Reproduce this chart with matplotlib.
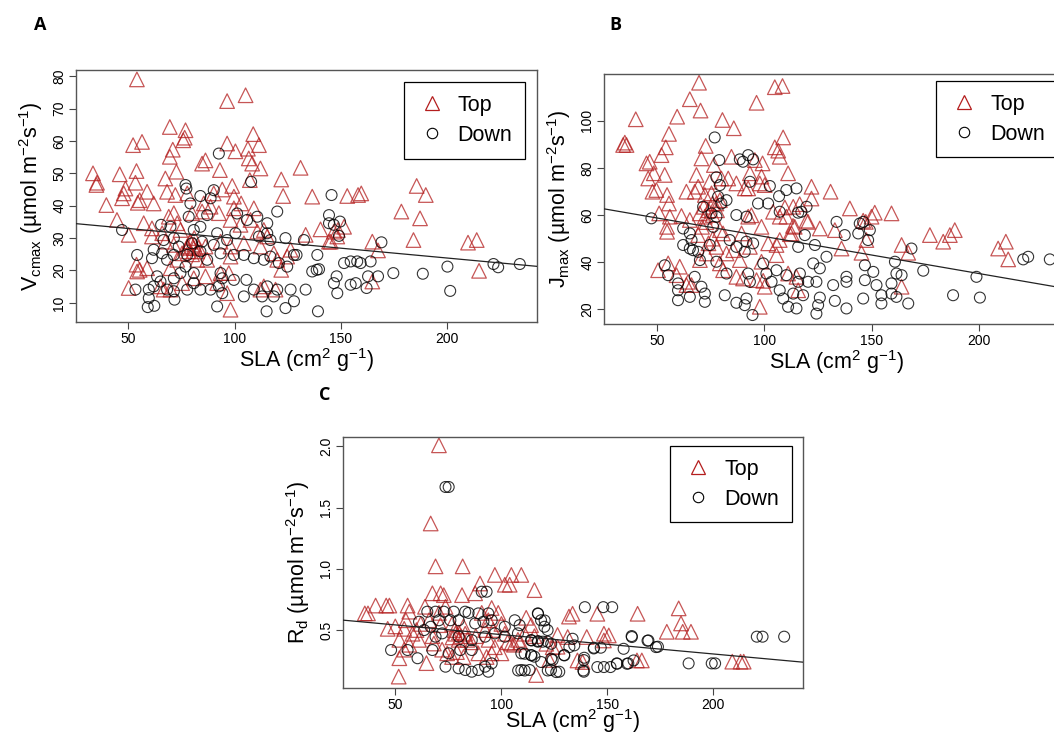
# -*- coding: utf-8 -*-
# Photosynthetic traits vs SLA, top and down leaves (3 panels)
import numpy as np
import matplotlib
matplotlib.use('Agg')
import matplotlib.pyplot as plt
from matplotlib.lines import Line2D

plt.rcParams['font.family'] = ['Liberation Sans', 'DejaVu Sans']
plt.rcParams['mathtext.fontset'] = 'custom'
plt.rcParams['mathtext.rm'] = 'Liberation Sans'
plt.rcParams['mathtext.it'] = 'Liberation Sans:italic'

# %% data (SLA, value)
vcmax_top = [
    (54, 79), (96.5, 72.3), (105.2, 74.1), (69.5, 64.3), (76.9, 63.3), (76.5, 61.0), (75.8, 60.2), (108.8, 62.1),
    (52.2, 58.7), (56.4, 59.7), (70.9, 57.3), (96.5, 59.2), (100.4, 56.8), (106.3, 57.6), (111.5, 58.7),
    (106.7, 54.6), (108.3, 53.0), (112.2, 51.5), (69.5, 55.1), (72.6, 50.5), (84.7, 53.0), (86.3, 54.0),
    (93.1, 51.0), (131.1, 51.7), (33.3, 50.0), (35.2, 47.1), (34.9, 46.4), (45.9, 49.7), (53.8, 50.7),
    (53.3, 47.1), (67.4, 48.4), (107.2, 47.9), (122.0, 48.1), (48.6, 45.3), (47.8, 43.8), (47.0, 42.3),
    (58.8, 44.3), (39.6, 40.2), (61.9, 40.7), (55.3, 41.7), (54.4, 40.9), (68.2, 44.3), (72.1, 43.3),
    (77.7, 43.8), (85.5, 40.7), (90.2, 43.8), (94.2, 45.0), (98.9, 46.1), (99.7, 42.8), (103.1, 40.7),
    (109.1, 39.2), (122.9, 43.0), (136.6, 42.8), (153.1, 43.0), (158.2, 43.3), (44.6, 35.6), (50.1, 31.0),
    (57.2, 34.6), (61.1, 33.0), (61.1, 30.5), (65.9, 31.5), (69.0, 36.6), (71.4, 37.7), (73.0, 34.6),
    (74.5, 32.5), (80.0, 37.7), (84.7, 38.2), (88.7, 39.7), (92.6, 37.7), (98.1, 35.6), (99.7, 39.2),
    (102.8, 34.1), (107.5, 35.6), (110.7, 32.0), (113.8, 32.5), (115.4, 30.5), (133.5, 31.0), (140.5, 32.7),
    (146.8, 32.0), (151.6, 33.5), (67.4, 28.9), (71.4, 27.9), (77.7, 27.4), (79.2, 28.9), (80.8, 26.9),
    (78.4, 25.9), (82.4, 25.9), (86.3, 27.4), (93.4, 28.9), (98.1, 27.4), (104.4, 28.4), (112.2, 27.4),
    (118.5, 25.3), (124.8, 24.3), (126.4, 26.4), (144.5, 28.9), (73.0, 23.3), (75.3, 25.3), (82.4, 23.3),
    (87.1, 23.3), (98.1, 24.3), (120.1, 23.3), (53.8, 21.8), (55.3, 20.2), (54.1, 19.7), (58.8, 20.7),
    (69.8, 20.7), (80.8, 17.6), (86.3, 18.2), (93.4, 19.2), (97.3, 19.2), (122.0, 20.2), (50.1, 14.6),
    (65.1, 15.1), (66.6, 14.1), (69.8, 14.1), (75.3, 16.1), (91.8, 16.1), (96.5, 13.0), (112.2, 14.1),
    (113.8, 15.1), (119.3, 14.1), (98.1, 7.9), (159.7, 43.8), (185.8, 46.1), (190.1, 43.3), (178.6, 38.2),
    (187.4, 36.1), (148.7, 32.5), (145.3, 28.9), (148.4, 30.5), (164.9, 28.9), (167.6, 26.2), (184.3, 29.4),
    (210.0, 28.6), (214.1, 29.4), (215.2, 19.9), (164.9, 16.6), (79, 29), (81, 28), (80, 25), (78, 27),
    (83, 27), (81, 30),
]
vcmax_down = [
    (92.6, 56.1), (107.8, 47.4), (76.9, 46.4), (77.3, 45.3), (90.2, 44.8), (83.9, 43.0), (79.2, 40.7),
    (88.7, 42.3), (47.0, 32.5), (65.4, 34.1), (69.8, 33.5), (78.4, 36.6), (87.1, 37.1), (83.9, 33.5),
    (80.8, 32.5), (91.8, 31.5), (101.2, 37.6), (105.9, 35.6), (110.7, 36.6), (115.4, 34.6), (120.1, 38.2),
    (115.4, 31.5), (124.0, 30.0), (116.9, 29.4), (111.5, 30.5), (100.4, 31.5), (96.5, 29.4), (90.2, 27.9),
    (84.7, 28.9), (80.0, 28.4), (71.4, 30.0), (66.6, 29.4), (61.9, 26.4), (65.9, 25.3), (71.4, 24.8),
    (73.7, 27.4), (77.7, 24.8), (54.1, 24.8), (61.1, 23.8), (68.2, 23.3), (83.9, 25.9), (87.1, 23.3),
    (93.4, 25.3), (99.7, 24.8), (104.4, 24.8), (109.1, 23.8), (113.8, 23.3), (116.9, 24.3), (120.9, 22.3),
    (124.8, 21.2), (128.0, 24.8), (139.0, 24.8), (138.7, 20.2), (136.6, 19.7), (53.3, 14.1), (59.6, 14.1),
    (59.6, 11.5), (59.1, 8.7), (62.2, 9.1), (63.5, 18.2), (65.1, 16.6), (61.9, 15.1), (68.2, 14.1),
    (71.4, 13.6), (71.7, 11.0), (71.4, 17.6), (74.5, 19.2), (76.9, 21.2), (80.8, 19.2), (77.7, 14.1),
    (80.8, 16.1), (83.9, 14.1), (88.7, 14.1), (92.6, 15.1), (94.2, 13.0), (91.8, 8.9), (93.4, 19.2),
    (94.2, 17.6), (99.7, 17.1), (104.4, 12.0), (105.6, 17.1), (109.1, 14.1), (113.0, 12.0), (115.4, 15.1),
    (115.1, 7.4), (118.5, 12.0), (120.1, 14.1), (124.0, 8.4), (128.0, 10.5), (126.4, 14.1), (133.5, 14.1),
    (139.3, 7.4), (145.7, 43.3), (144.5, 37.1), (144.5, 34.6), (146.8, 34.1), (149.2, 30.7), (148.1, 18.2),
    (146.8, 16.1), (148.4, 13.0), (151.6, 22.3), (154.7, 22.8), (154.7, 15.6), (157.1, 16.1), (157.8, 22.8),
    (149.7, 35.1), (132.7, 29.4), (129.2, 24.8), (139.8, 20.4), (159.4, 22.3), (164.1, 22.8), (169.2, 28.7),
    (162.9, 18.2), (167.6, 18.2), (162.2, 14.6), (174.8, 19.2), (188.7, 19.0), (200.3, 21.2), (201.6, 13.7),
    (222.0, 22.0), (224.2, 21.0), (234.4, 22.0),
]

jmax_top = [
    (69.6, 116.1), (65.3, 109.1), (70.3, 104.3), (40.1, 100.6), (59.4, 101.7), (80.5, 100.3), (85.8, 96.8),
    (96.4, 107.6), (104.9, 114.2), (108.5, 114.7), (35.0, 90.7), (34.2, 89.7), (35.8, 89.7), (55.6, 94.4),
    (54.1, 88.7), (72.7, 89.3), (108.8, 92.9), (104.9, 88.7), (106.5, 87.3), (107.2, 84.7), (52.1, 85.4),
    (45.1, 81.9), (46.6, 82.6), (48.5, 77.7), (53.6, 77.0), (45.9, 75.5), (47.9, 69.9), (70.7, 84.0),
    (76.5, 81.2), (84.7, 84.7), (95.6, 83.3), (99.2, 81.9), (111.1, 77.7), (68.4, 77.0), (74.6, 74.1),
    (80.0, 75.5), (83.2, 75.5), (87.0, 73.4), (93.3, 77.7), (98.7, 76.3), (97.9, 73.4), (100.2, 72.7),
    (63.7, 69.9), (69.2, 72.0), (67.6, 69.9), (72.3, 68.5), (75.4, 69.2), (79.3, 66.3), (77.7, 64.9),
    (90.9, 71.3), (92.5, 71.3), (122.0, 72.0), (130.9, 69.9), (122.0, 67.0), (54.7, 68.5), (55.6, 64.9),
    (51.0, 60.7), (56.0, 59.3), (61.4, 59.6), (69.9, 60.7), (72.3, 59.3), (71.8, 63.5), (75.9, 64.9),
    (113.5, 63.5), (139.9, 62.8), (151.5, 61.0), (159.3, 60.7), (150.0, 59.3), (147.3, 57.1), (54.7, 55.0),
    (54.7, 52.9), (65.3, 57.9), (69.2, 51.5), (79.3, 53.6), (80.8, 52.2), (89.4, 52.2), (92.5, 59.3),
    (94.0, 59.9), (98.7, 55.0), (104.1, 61.4), (107.2, 59.3), (110.3, 59.3), (112.7, 52.2), (114.2, 55.0),
    (120.4, 57.1), (125.9, 54.3), (132.9, 53.6), (147.6, 49.4), (177.2, 51.5), (183.4, 48.7), (186.5, 51.5),
    (188.8, 53.6), (184.6, 88.7), (209.0, 45.8), (212.6, 48.7), (213.7, 41.2), (164.0, 47.3), (167.1, 44.0),
    (136.0, 45.8), (145.3, 44.0), (164.0, 29.6), (105.7, 47.3), (107.2, 49.4), (101.8, 48.0), (105.7, 43.0),
    (50.5, 36.6), (55.2, 39.5), (60.6, 38.1), (59.1, 34.5), (64.5, 31.7), (66.1, 30.3), (63.7, 30.3),
    (70.0, 40.9), (73.1, 43.7), (77.7, 46.5), (79.3, 39.5), (82.4, 43.7), (85.5, 45.1), (80.8, 36.6),
    (87.0, 33.8), (90.1, 33.1), (96.4, 32.4), (100.2, 29.6), (97.9, 21.1), (111.1, 35.2), (115.0, 33.8),
    (115.8, 28.1), (93.3, 46.5), (88.6, 40.9), (98.7, 40.2), (49.7, 70.6), (116.5, 64.6), (119.7, 57.6),
    (146.1, 57.6), (113.4, 55.4), (111.9, 51.9), (99.5, 32.1), (109.6, 63.2), (74, 62), (76, 60), (73, 57),
    (78, 62), (71, 55), (76, 50), (74, 48),
]
jmax_down = [
    (76.9, 92.9), (79.0, 83.3), (88.6, 83.6), (90.1, 82.6), (92.5, 85.4), (94.8, 83.6), (77.7, 76.0),
    (79.3, 72.7), (93.3, 74.1), (102.6, 72.3), (106.9, 68.0), (110.3, 70.6), (115.0, 71.3), (78.5, 67.8),
    (80.0, 64.9), (82.4, 66.3), (71.5, 63.5), (75.4, 60.7), (77.7, 59.3), (87.0, 60.0), (91.7, 59.3),
    (97.1, 64.9), (101.8, 64.9), (107.2, 61.4), (115.8, 61.0), (117.3, 61.4), (119.7, 63.5), (47.4, 58.6),
    (62.2, 54.3), (65.3, 52.2), (66.1, 49.4), (62.2, 47.3), (65.3, 45.8), (66.8, 45.1), (69.2, 44.4),
    (74.6, 47.3), (76.2, 55.0), (83.9, 49.4), (87.0, 46.5), (90.9, 44.4), (91.7, 48.7), (94.8, 48.0),
    (118.9, 51.5), (123.6, 47.3), (115.8, 46.5), (133.7, 57.1), (137.5, 51.5), (143.8, 52.2), (144.5, 56.4),
    (146.1, 57.1), (149.2, 53.6), (148.4, 49.4), (160.9, 40.2), (168.6, 45.8), (174.1, 36.4), (198.9, 33.8),
    (188.0, 26.0), (200.5, 25.0), (220.7, 41.2), (223.0, 42.3), (233.1, 41.2), (53.6, 38.7), (55.2, 34.5),
    (59.8, 31.0), (59.8, 23.9), (65.3, 25.3), (67.6, 33.8), (70.7, 29.6), (72.3, 26.7), (72.3, 23.2),
    (70.0, 40.9), (77.7, 40.2), (82.4, 35.2), (81.6, 26.0), (87.0, 22.8), (90.9, 21.8), (91.7, 24.6),
    (94.5, 17.6), (92.5, 35.2), (93.3, 31.7), (99.5, 39.5), (101.0, 35.2), (103.4, 31.7), (105.7, 36.6),
    (107.2, 28.1), (108.8, 24.6), (110.3, 34.5), (111.1, 21.1), (113.5, 26.7), (115.0, 20.4), (115.8, 31.7),
    (116.6, 35.2), (118.1, 26.0), (120.4, 31.7), (122.8, 39.5), (124.3, 31.7), (124.3, 18.2), (125.1, 21.8),
    (125.9, 25.0), (125.9, 37.4), (129.0, 42.3), (132.1, 30.3), (132.9, 23.6), (138.3, 33.8), (138.3, 20.4),
    (138.3, 31.7), (146.9, 38.7), (146.9, 32.4), (146.1, 24.6), (150.8, 35.9), (152.3, 30.3), (154.6, 26.0),
    (154.6, 22.5), (159.3, 31.0), (159.3, 26.7), (161.6, 35.2), (161.6, 25.3), (164.0, 34.5), (167.1, 22.5),
    (59.8, 28.1),
]

rd_top = [
    (70.6, 2.008), (66.7, 1.37), (69.0, 1.02), (81.8, 1.02), (97.0, 0.95), (104.8, 0.95), (109.5, 0.95),
    (101.7, 0.87), (104.0, 0.87), (115.7, 0.826), (90.0, 0.88), (81.5, 0.785), (87.7, 0.80), (67.5, 0.80),
    (71.4, 0.80), (72.9, 0.785), (35.6, 0.636), (37.1, 0.636), (40.7, 0.70), (45.7, 0.70), (47.2, 0.70),
    (55.8, 0.70), (56.6, 0.65), (55.0, 0.58), (46.4, 0.51), (50.0, 0.53), (54.2, 0.51), (58.1, 0.47),
    (64.0, 0.69), (65.9, 0.58), (70.6, 0.64), (73.7, 0.69), (71.3, 0.54), (76.8, 0.55), (78.4, 0.47),
    (82.2, 0.53), (83.0, 0.47), (79.9, 0.42), (79.1, 0.32), (74.5, 0.31), (72.1, 0.34), (76.8, 0.28),
    (82.2, 0.28), (90.8, 0.64), (93.9, 0.58), (95.5, 0.68), (98.6, 0.64), (100.1, 0.55), (92.4, 0.50),
    (96.2, 0.50), (101.7, 0.47), (89.2, 0.31), (93.1, 0.28), (95.5, 0.31), (100.1, 0.31), (104.8, 0.39),
    (107.9, 0.42), (111.0, 0.47), (111.8, 0.60), (114.1, 0.54), (115.7, 0.45), (116.5, 0.133), (51.9, 0.27),
    (51.6, 0.12), (64.7, 0.23), (51.9, 0.42), (56.6, 0.38), (54.2, 0.34), (61.2, 0.42), (67.5, 0.45),
    (68.2, 0.39), (126.6, 0.46), (132.0, 0.61), (124.3, 0.36), (122.7, 0.256), (133.7, 0.633), (145.4, 0.633),
    (164.4, 0.633), (131.4, 0.443), (140.4, 0.443), (148.5, 0.47), (150.8, 0.456), (148.5, 0.415),
    (136.0, 0.252), (138.4, 0.239), (164.1, 0.252), (166.4, 0.252), (121.3, 0.388), (183.8, 0.677),
    (184.9, 0.554), (178.2, 0.486), (185.7, 0.486), (189.6, 0.486), (209.1, 0.242), (213.0, 0.242),
    (214.5, 0.242), (126.6, 0.364), (78, 0.50), (80, 0.48), (81, 0.45), (77, 0.44), (84, 0.42), (86, 0.40),
    (103, 0.40), (106, 0.38), (109, 0.40), (97, 0.36), (94, 0.42), (88, 0.45), (62, 0.55), (60, 0.50),
]
rd_down = [
    (73.7, 1.668), (75.2, 1.668), (90.8, 0.813), (93.1, 0.813), (48.0, 0.337), (55.8, 0.337), (60.5, 0.27),
    (65.1, 0.65), (69.0, 0.65), (72.9, 0.65), (77.6, 0.65), (83.0, 0.65), (84.6, 0.64), (89.2, 0.636),
    (93.9, 0.636), (61.2, 0.568), (63.6, 0.50), (66.7, 0.527), (70.6, 0.58), (76.0, 0.58), (79.9, 0.58),
    (87.7, 0.554), (91.6, 0.568), (95.5, 0.58), (101.7, 0.527), (106.4, 0.58), (108.7, 0.54), (117.3, 0.636),
    (118.8, 0.58), (120.4, 0.527), (121.9, 0.50), (69.0, 0.446), (72.1, 0.473), (79.9, 0.446), (86.1, 0.418),
    (92.4, 0.446), (97.0, 0.473), (101.7, 0.446), (107.9, 0.473), (114.1, 0.418), (117.3, 0.405),
    (119.6, 0.405), (121.9, 0.405), (67.5, 0.337), (75.2, 0.31), (80.7, 0.337), (86.1, 0.337), (73.7, 0.201),
    (79.9, 0.188), (83.0, 0.174), (86.1, 0.16), (89.2, 0.174), (92.4, 0.201), (93.9, 0.16), (95.5, 0.228),
    (109.5, 0.174), (113.4, 0.174), (109.5, 0.31), (114.1, 0.296), (115.7, 0.283), (123.5, 0.174),
    (127.4, 0.16), (124.3, 0.256), (129.7, 0.296), (139.5, 0.687), (148.2, 0.687), (152.4, 0.687),
    (117.4, 0.633), (120.5, 0.578), (114.3, 0.415), (117.4, 0.41), (123.6, 0.388), (129.8, 0.293),
    (133.7, 0.429), (132.2, 0.361), (134.5, 0.375), (139.2, 0.274), (138.8, 0.17), (145.4, 0.198),
    (148.5, 0.198), (151.6, 0.198), (154.7, 0.225), (159.4, 0.225), (162.5, 0.252), (143.8, 0.356),
    (147.0, 0.356), (157.8, 0.347), (161.7, 0.443), (169.5, 0.415), (173.1, 0.361), (108.0, 0.17),
    (111.1, 0.17), (122.0, 0.17), (126.0, 0.157), (111.1, 0.307), (114.3, 0.293), (123.6, 0.266),
    (118.9, 0.239), (169.1, 0.413), (174.0, 0.364), (188.5, 0.228), (199.4, 0.228), (201.0, 0.228),
    (220.7, 0.446), (223.4, 0.446), (233.6, 0.446), (154.6, 0.228), (160.0, 0.228), (161.6, 0.451),
    (143.7, 0.35), (139.0, 0.255), (139.0, 0.16),
]

# fitted lines (intercept, slope)
fit_vcmax = (36.0, -0.0607)
fit_jmax = (66.6, -0.157)
fit_rd = (0.621, -0.00158)

# %% figure
W, H = 1054, 736
fig = plt.figure(figsize=(W / 100, H / 100), dpi=100)

def px_axes(left, top, right, bottom):
    return fig.add_axes([left / W, 1 - bottom / H, (right - left) / W, (bottom - top) / H])

red = '#b41e1e'

def panel(ax, top, down, fit, ylim, yticks, yticklabels, ylabel, leg_anchor, xpad=0):
    t = np.array(top)
    d = np.array(down)
    ax.scatter(t[:, 0], t[:, 1], marker='^', s=110, facecolors='none',
               edgecolors=red, linewidths=0.9, alpha=0.75, zorder=2)
    ax.scatter(d[:, 0], d[:, 1], marker='o', s=62, facecolors='none',
               edgecolors='black', linewidths=0.8, alpha=0.8, zorder=3)
    ax.axline((0, fit[0]), slope=fit[1], color='#222222', lw=0.9, zorder=4)
    ax.set_xlim(25.3, 242.5)
    ax.set_ylim(*ylim)
    ax.set_xticks([50, 100, 150, 200])
    ax.set_yticks(yticks)
    ax.set_yticklabels(yticklabels, rotation=90, va='center')
    ax.tick_params(length=5, width=0.8, pad=2, labelsize=10, color='#444444')
    for s in ax.spines.values():
        s.set_color('#555555')
        s.set_linewidth(1.0)
    ax.set_xlabel(r'SLA (cm$^2$ g$^{-1}$)', fontsize=15.5, labelpad=xpad)
    ax.set_ylabel(ylabel, fontsize=15.5, labelpad=5)
    handles = [Line2D([], [], ls='none', marker='^', ms=10, mfc='none', mec=red, mew=0.9),
               Line2D([], [], ls='none', marker='o', ms=7.5, mfc='none', mec='black', mew=0.8)]
    leg = ax.legend(handles, ['Top', 'Down'], loc='upper right', bbox_to_anchor=leg_anchor,
                    borderaxespad=0, fontsize=15.5, frameon=True, fancybox=False,
                    edgecolor='black', framealpha=1, borderpad=0.6, labelspacing=0.4,
                    handlelength=1.4, handletextpad=0.5)
    leg.get_frame().set_linewidth(0.9)

axA = px_axes(76, 70, 537, 322)
panel(axA, vcmax_top, vcmax_down, fit_vcmax, (4.1, 81.9), np.arange(10, 81, 10),
      [str(v) for v in range(10, 81, 10)],
      r'V$_{\mathrm{cmax}}$ (µmol m$^{-2}$s$^{-1}$)', (0.974, 0.952))

axB = px_axes(604, 74, 1070, 324)
panel(axB, jmax_top, jmax_down, fit_jmax, (13.8, 119.8), [20, 40, 60, 80, 100],
      ['20', '40', '60', '80', '100'],
      r'J$_{\mathrm{max}}$ (µmol m$^{-2}$s$^{-1}$)', (0.974, 0.972))

axC = px_axes(343, 437, 803, 688)
panel(axC, rd_top, rd_down, fit_rd, (0.027, 2.076), [0.5, 1.0, 1.5, 2.0],
      ['0.5', '1.0', '1.5', '2.0'],
      r'R$_{\mathrm{d}}$ (µmol m$^{-2}$s$^{-1}$)', (0.976, 0.964), xpad=-3)

# panel letters
for lab, x, y in [('A', 40, 25), ('B', 615, 25), ('C', 325, 395)]:
    fig.text(x / W, 1 - y / H, lab, fontsize=13, fontweight='bold',
             family='Open Sans', ha='center', va='center')

fig.savefig('out.png', dpi=100)
